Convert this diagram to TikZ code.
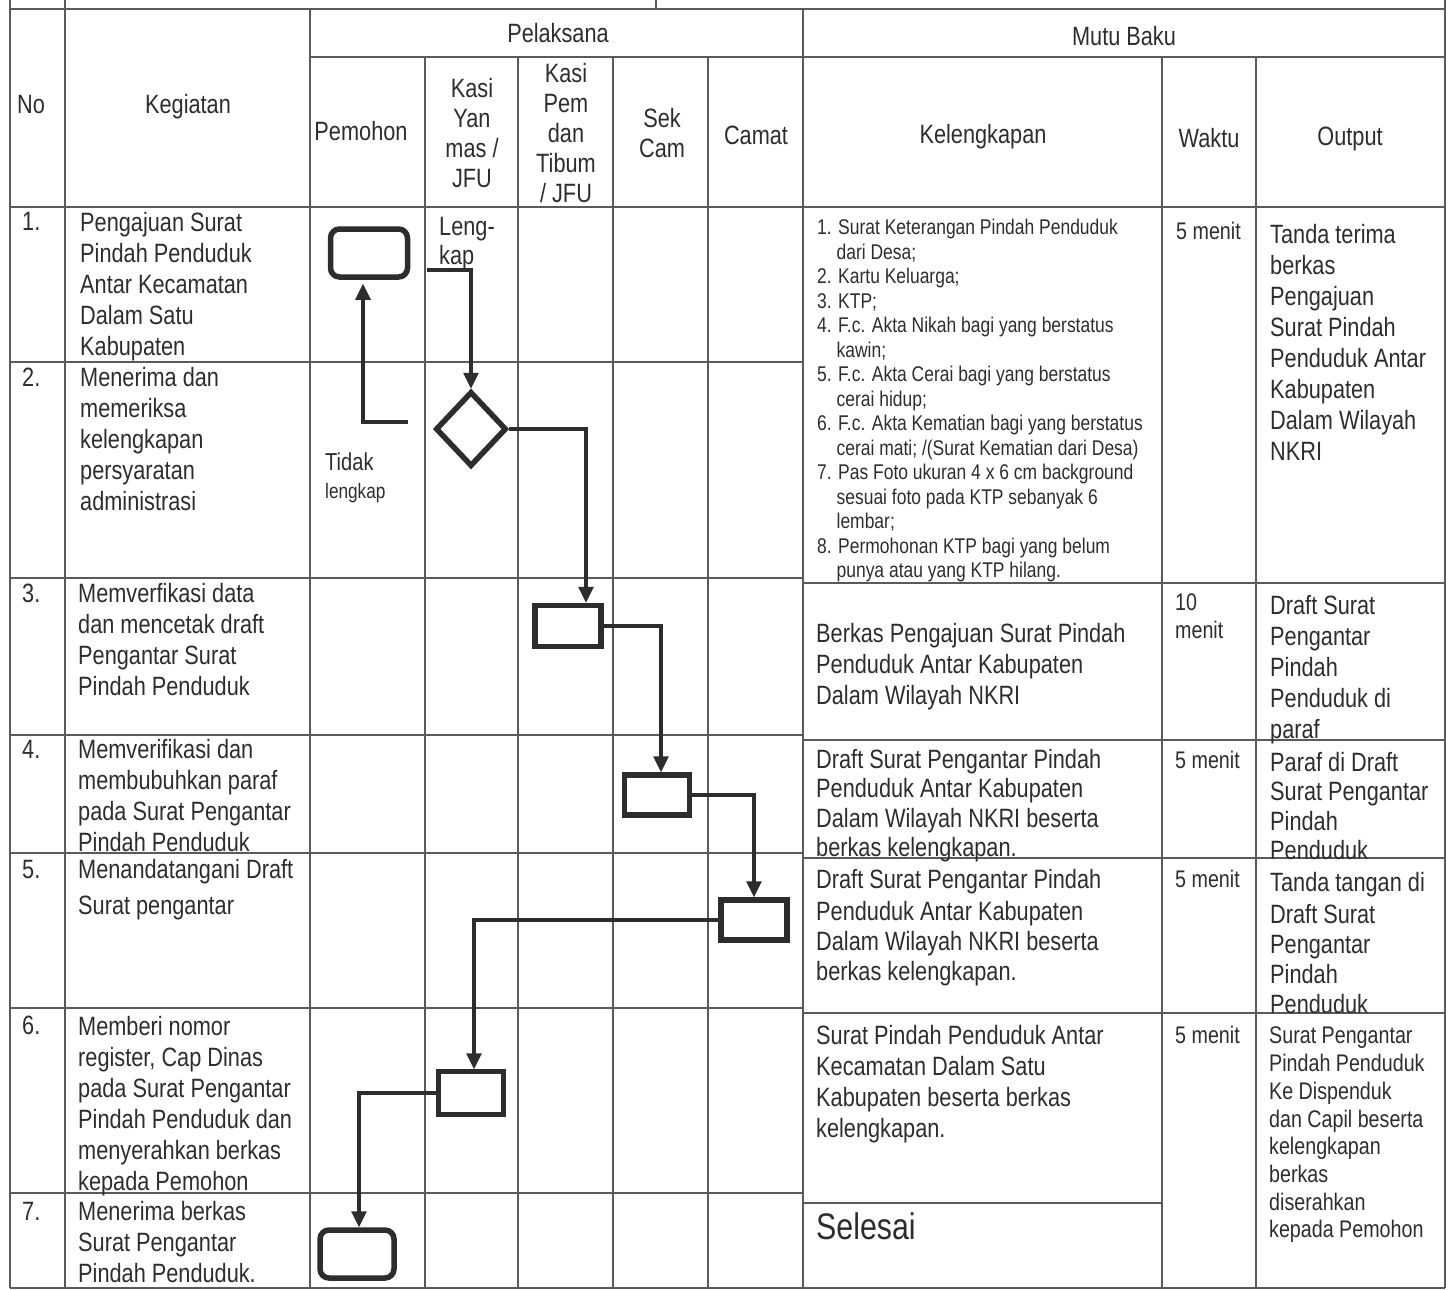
\documentclass[tikz,border=0pt]{standalone}
\usepackage{fontspec}
\setmainfont{Liberation Sans}[FakeStretch=0.82]
\usetikzlibrary{shapes.geometric, arrows.meta}

\definecolor{ink}{RGB}{45,45,45}
\definecolor{rule}{RGB}{90,90,90}

\newcommand\bodyfont{\fontsize{26.5}{31}\selectfont}
\newcommand\headfont{\fontsize{26.5}{30}\selectfont}
\newcommand\listfont{\fontsize{21.3}{24.5}\selectfont}
\newcommand\timefont{\fontsize{24}{28}\selectfont}
\newcommand\outsmall{\fontsize{24}{27.7}\selectfont}
\newcommand\bigfont{\fontsize{37}{40}\selectfont}
\newcommand\ind{\hphantom{1.\ }}

\begin{document}
\begin{tikzpicture}[x=1pt, y=-1pt,
  txt/.style={anchor=north west, inner sep=0pt, align=left, text=ink, font=\bodyfont},
  head/.style={inner sep=0pt, align=center, text=ink, font=\headfont},
  gridline/.style={draw=rule, line width=1.6pt},
  proc/.style={draw=ink, line width=5.5pt, inner sep=0pt},
  term/.style={proc, rounded corners=9pt},
  flow/.style={draw=ink, line width=3.2pt, -{Triangle[width=15pt, length=16pt]}}]

\useasboundingbox (0,0) rectangle (1454,1290);

% table lines
\foreach \x in {10, 65, 1445} \draw[gridline] (\x,0) -- (\x,1288);
\foreach \x in {310, 803} \draw[gridline] (\x,9) -- (\x,1288);
\foreach \x in {425, 518, 613, 708, 1162, 1256} \draw[gridline] (\x,57) -- (\x,1288);
\draw[gridline] (656,0) -- (656,9);
\draw[gridline] (10,9) -- (1445,9);
\draw[gridline] (310,57) -- (1445,57);
\draw[gridline] (10,207) -- (1445,207);
\foreach \y in {362, 578, 735, 853, 1008, 1193} \draw[gridline] (10,\y) -- (803,\y);
\foreach \y in {583, 740, 858, 1013} \draw[gridline] (803,\y) -- (1445,\y);
\draw[gridline] (803,1203) -- (1162,1203);
\draw[gridline] (10,1288) -- (1445,1288);

% header
\node[head] at (558,33) (pel) {Pelaksana};
\node[head] at (1124,36) (mutu) {Mutu Baku};
\node[head] at (31,105) (hno) {No};
\node[head] at (188,107) (hkeg) {Kegiatan};
\node[head] at (361,131) (hpemohon) {Pemohon};
\node[head] at (472,133) (hyan) {Kasi\\Yan\\mas /\\JFU};
\node[head] at (566,133) (htibum) {Kasi\\Pem\\dan\\Tibum\\/ JFU};
\node[head] at (662,133) (hsek) {Sek\\Cam};
\node[head] at (756,135) (hcamat) {Camat};
\node[head] at (983,137) (hkel) {Kelengkapan};
\node[head] at (1209,138) (hwaktu) {Waktu};
\node[head] at (1350,139) (hout) {Output};

% numbers
\node[txt] at (22,212) (no1) {1.};
\node[txt] at (22,368) (no2) {2.};
\node[txt] at (22,584) (no3) {3.};
\node[txt] at (22,740) (no4) {4.};
\node[txt] at (22,860) (no5) {5.};
\node[txt] at (22,1016) (no6) {6.};
\node[txt] at (22,1202) (no7) {7.};

% kegiatan
\node[txt] at (80,212) (keg1) {Pengajuan Surat\\Pindah Penduduk\\Antar Kecamatan\\Dalam Satu\\Kabupaten};
\node[txt] at (80,367) (keg2) {Menerima dan\\memeriksa\\kelengkapan\\persyaratan\\administrasi};
\node[txt] at (78,583) (keg3) {Memverfikasi data\\dan mencetak draft\\Pengantar Surat\\Pindah Penduduk};
\node[txt] at (78,739) (keg4) {Memverifikasi dan\\membubuhkan paraf\\pada Surat Pengantar\\Pindah Penduduk};
\node[txt] at (78,859) (keg5) {Menandatangani Draft\\[5pt]Surat pengantar};
\node[txt] at (78,1016) (keg6) {Memberi nomor\\register, Cap Dinas\\pada Surat Pengantar\\Pindah Penduduk dan\\menyerahkan berkas\\kepada Pemohon};
\node[txt] at (78,1201) (keg7) {Menerima berkas\\Surat Pengantar\\Pindah Penduduk.};

% kelengkapan
\node[txt, font=\listfont] at (817,219) (kel1) {1. Surat Keterangan Pindah Penduduk\\\ind dari Desa;\\2. Kartu Keluarga;\\3. KTP;\\4. F.c. Akta Nikah bagi yang berstatus\\\ind kawin;\\5. F.c. Akta Cerai bagi yang berstatus\\\ind cerai hidup;\\6. F.c. Akta Kematian bagi yang berstatus\\\ind cerai mati; /(Surat Kematian dari Desa)\\7. Pas Foto ukuran 4 x 6 cm background\\\ind sesuai foto pada KTP sebanyak 6\\\ind lembar;\\8. Permohonan KTP bagi yang belum\\\ind punya atau yang KTP hilang.};
\node[txt] at (816,623) (kel3) {Berkas Pengajuan Surat Pindah\\Penduduk Antar Kabupaten\\Dalam Wilayah NKRI};
\node[txt, font=\fontsize{26.5}{29.5}\selectfont] at (816,749) (kel4) {Draft Surat Pengantar Pindah\\Penduduk Antar Kabupaten\\Dalam Wilayah NKRI beserta\\berkas kelengkapan.};
\node[txt, font=\fontsize{26.5}{30}\selectfont] at (816,869) (kel5) {Draft Surat Pengantar Pindah\\[2pt]Penduduk Antar Kabupaten\\Dalam Wilayah NKRI beserta\\berkas kelengkapan.};
\node[txt] at (816,1025) (kel6) {Surat Pindah Penduduk Antar\\Kecamatan Dalam Satu\\Kabupaten beserta berkas\\kelengkapan.};
\node[txt, font=\bigfont] at (816,1212) (kel7) {Selesai};

% waktu
\node[txt, font=\timefont] at (1176,222) (wkt1) {5 menit};
\node[txt, font=\timefont] at (1175,594) (wkt3) {10\\menit};
\node[txt, font=\timefont] at (1175,751) (wkt4) {5 menit};
\node[txt, font=\timefont] at (1175,870) (wkt5) {5 menit};
\node[txt, font=\timefont] at (1175,1026) (wkt6) {5 menit};

% output
\node[txt] at (1270,224) (out1) {Tanda terima\\berkas\\Pengajuan\\Surat Pindah\\Penduduk Antar\\Kabupaten\\Dalam Wilayah\\NKRI};
\node[txt] at (1270,595) (out3) {Draft Surat\\Pengantar\\Pindah\\Penduduk di\\paraf};
\node[txt, font=\fontsize{26.5}{29.5}\selectfont] at (1270,752) (out4) {Paraf di Draft\\Surat Pengantar\\Pindah\\Penduduk};
\node[txt, font=\fontsize{26.5}{30}\selectfont] at (1270,872) (out5) {Tanda tangan di\\[2pt]Draft Surat\\Pengantar\\Pindah\\Penduduk};
\node[txt, font=\outsmall] at (1269,1027) (out6) {Surat Pengantar\\Pindah Penduduk\\Ke Dispenduk\\dan Capil beserta\\kelengkapan\\berkas\\diserahkan\\kepada Pemohon};

% flow symbols
\node[term, minimum width=77pt, minimum height=48pt] at (369,253) (start) {};
\node[proc, diamond, minimum width=71pt, minimum height=75pt] at (471,429) (cek) {};
\node[proc, minimum width=66pt, minimum height=41pt] at (568,626) (verif) {};
\node[proc, minimum width=65pt, minimum height=40pt] at (657,795) (paraf) {};
\node[proc, minimum width=66pt, minimum height=40pt] at (754,920) (ttd) {};
\node[proc, line width=4.5pt, minimum width=65pt, minimum height=43pt] at (471,1093) (register) {};
\node[term, minimum width=74pt, minimum height=48pt] at (357,1254) (terima) {};

% flow labels
\node[txt, font=\fontsize{26.5}{29}\selectfont] at (439,217) (lengkap) {Leng-\\kap};
\node[txt, font=\fontsize{24.5}{28}\selectfont] at (325,453) (tidak) {Tidak\\\fontsize{21}{24}\selectfont lengkap};

% connectors
\coordinate (lk) at (427,270);
\coordinate (tl) at (408,422);
\draw[flow] (lk) -| (cek.north);
\draw[flow, shorten >=4pt] (tl) -| ([xshift=-6pt]start.south);
\draw[flow] (cek.east) -| ([xshift=18pt]verif.north);
\draw[flow] (verif.east) -| ([xshift=4pt]paraf.north);
\draw[flow] (paraf.east) -| (ttd.north);
\draw[flow] (ttd.west) -| ([xshift=3pt]register.north);
\draw[flow] (register.west) -| ([xshift=2pt]terima.north);

\end{tikzpicture}
\end{document}
